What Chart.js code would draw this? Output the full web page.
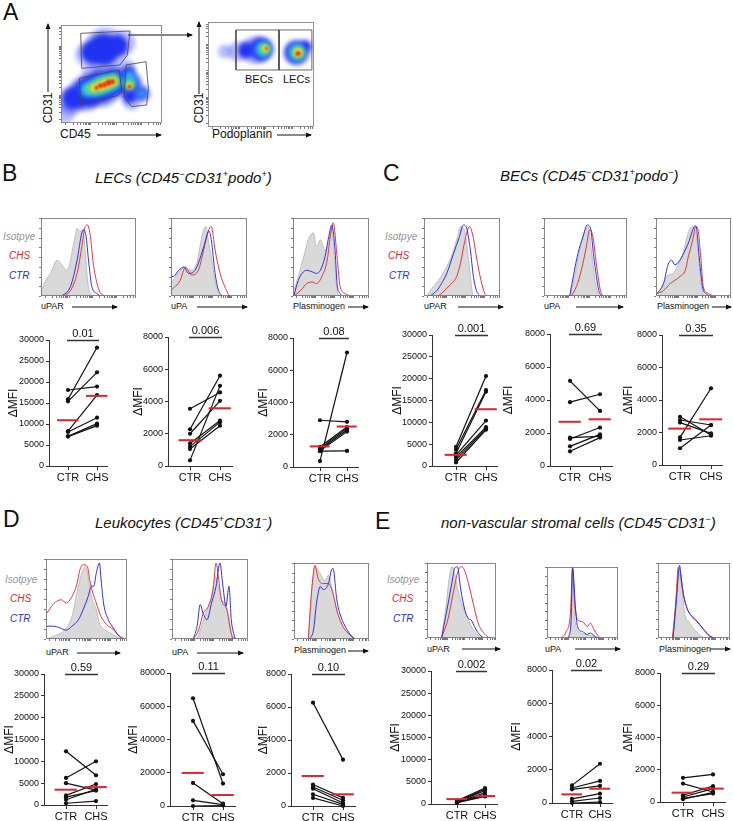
<!DOCTYPE html>
<html>
<head>
<meta charset="utf-8">
<script src="https://cdn.jsdelivr.net/npm/chart.js@4.4.1/dist/chart.umd.min.js"></script>
<style>
  body { margin: 0; background: #fff; font-family: "Liberation Sans", Arial, sans-serif; }
  #fig { position: relative; width: 733px; height: 821px; overflow: hidden; background: #fff; }
  .t { position: absolute; white-space: nowrap; line-height: 1; color: #111; }
  .letter { font-size: 23px; }
  .ttl { font-size: 15px; font-style: italic; }
  .ttl sup { font-size: 9px; vertical-align: 6px; line-height: 0; }
  .lg { font-size: 10px; font-style: italic; }
  .iso { color: #959595; }
  .chs { color: #e0262d; }
  .ctr { color: #2b2be0; }
  .ax { font-size: 9px; }
  .fl { font-size: 12px; }
  .rot { transform: translate(-50%, -50%) rotate(-90deg); }
  canvas { position: absolute; }
  svg { position: absolute; left: 0; top: 0; }
</style>
</head>
<body>
<div id="fig">
  <!-- panel letters and titles -->
  <div class="t letter" style="left:3px;top:1px">A</div>
  <div class="t letter" style="left:2px;top:162px">B</div>
  <div class="t letter" style="left:383px;top:162px">C</div>
  <div class="t letter" style="left:3px;top:508px">D</div>
  <div class="t letter" style="left:375px;top:510px">E</div>

  <div class="t ttl" style="left:95px;top:170px">LECs (CD45<sup>&minus;</sup>CD31<sup>+</sup>podo<sup>+</sup>)</div>
  <div class="t ttl" style="left:500px;top:168px">BECs (CD45<sup>&minus;</sup>CD31<sup>+</sup>podo<sup>&minus;</sup>)</div>
  <div class="t ttl" style="left:95px;top:515px">Leukocytes (CD45<sup>+</sup>CD31<sup>&minus;</sup>)</div>
  <div class="t ttl" style="left:441px;top:515px">non-vascular stromal cells (CD45<sup>&minus;</sup>CD31<sup>&minus;</sup>)</div>

  <!-- panel A axis labels -->
  <div class="t fl rot" style="left:48px;top:108px">CD31</div>
  <div class="t fl" style="left:60px;top:128px">CD45</div>
  <div class="t fl rot" style="left:199px;top:108px">CD31</div>
  <div class="t fl" style="left:212px;top:128px">Podoplanin</div>
  <div class="t" style="left:245px;top:74px;font-size:11px">BECs</div>
  <div class="t" style="left:283px;top:74px;font-size:11px">LECs</div>

  <!-- histogram legends -->
  <div class="t lg iso" style="left:3px;top:232px">Isotpye</div>
  <div class="t lg chs" style="left:9px;top:251px">CHS</div>
  <div class="t lg ctr" style="left:9px;top:271px">CTR</div>
  <div class="t lg iso" style="left:385px;top:232px">Isotpye</div>
  <div class="t lg chs" style="left:388px;top:251px">CHS</div>
  <div class="t lg ctr" style="left:389px;top:271px">CTR</div>
  <div class="t lg iso" style="left:5px;top:575px">Isotpye</div>
  <div class="t lg chs" style="left:10px;top:594px">CHS</div>
  <div class="t lg ctr" style="left:10px;top:614px">CTR</div>
  <div class="t lg iso" style="left:387px;top:575px">Isotpye</div>
  <div class="t lg chs" style="left:392px;top:594px">CHS</div>
  <div class="t lg ctr" style="left:393px;top:614px">CTR</div>

  <!-- histogram axis labels -->
  <div class="t ax" style="left:41px;top:302px">uPAR</div>
  <div class="t ax" style="left:171px;top:302px">uPA</div>
  <div class="t ax" style="left:293px;top:302px">Plasminogen</div>
  <div class="t ax" style="left:424px;top:302px">uPAR</div>
  <div class="t ax" style="left:544px;top:302px">uPA</div>
  <div class="t ax" style="left:657px;top:302px">Plasminogen</div>
  <div class="t ax" style="left:46px;top:648px">uPAR</div>
  <div class="t ax" style="left:172px;top:648px">uPA</div>
  <div class="t ax" style="left:294px;top:646px">Plasminogen</div>
  <div class="t ax" style="left:427px;top:645px">uPAR</div>
  <div class="t ax" style="left:545px;top:645px">uPA</div>
  <div class="t ax" style="left:659px;top:645px">Plasminogen</div>

  <svg width="733" height="821">
    <defs>
      <marker id="ah" markerWidth="6" markerHeight="6" refX="5" refY="3" orient="auto" markerUnits="userSpaceOnUse">
        <path d="M0,0.5 L6,3 L0,5.5 Z" fill="#111"/>
      </marker>
    </defs>
    <g stroke="#111" stroke-width="1" marker-end="url(#ah)">
      <line x1="48" y1="92" x2="48" y2="24"/>
      <line x1="97" y1="135" x2="161" y2="135"/>
      <line x1="128" y1="35" x2="192" y2="35"/>
      <line x1="199" y1="94" x2="199" y2="22"/>
      <line x1="277" y1="135" x2="311" y2="135"/>

      <line x1="72" y1="307" x2="117" y2="307"/>
      <line x1="197" y1="307" x2="247" y2="307"/>
      <line x1="348" y1="307" x2="368" y2="307"/>
      <line x1="458" y1="307" x2="503" y2="307"/>
      <line x1="576" y1="307" x2="623" y2="307"/>
      <line x1="712" y1="307" x2="731" y2="307"/>

      <line x1="77" y1="653" x2="120" y2="653"/>
      <line x1="197" y1="653" x2="243" y2="653"/>
      <line x1="348" y1="651" x2="368" y2="651"/>
      <line x1="462" y1="649" x2="500" y2="649"/>
      <line x1="575" y1="649" x2="620" y2="649"/>
      <line x1="710" y1="649" x2="730" y2="649"/>
    </g>
  </svg>
</div>

<script>
/* =========================================================
   DATA - paired dot plots (delta MFI, one value per mouse)
========================================================== */
const GROUPS = ["CTR", "CHS"];

const B_UPAR_CTR = [18100, 15900, 15400, 8300, 8100, 7100, 7000];
const B_UPAR_CHS = [18900, 28200, 22300, 16900, 11500, 10100, 9600];
const B_UPAR_MEAN = [10900, 16700];
const B_UPA_CTR = [3550, 2280, 2000, 1400, 1200, 1050, 350];
const B_UPA_CHS = [4560, 5600, 4040, 2820, 2720, 2500, 4970];
const B_UPA_MEAN = [1600, 3580];
const B_PLG_CTR = [2900, 1250, 1150, 1080, 1000, 980, 370];
const B_PLG_CHS = [2800, 2480, 2400, 2300, 2200, 1000, 7100];
const B_PLG_MEAN = [1280, 2510];
const B_P = ["0.01", "0.006", "0.08"];

const C_UPAR_CTR = [4400, 3800, 2900, 2500, 2000, 1400, 800];
const C_UPAR_CHS = [20600, 17400, 17000, 10400, 8900, 8600, 8300];
const C_UPAR_MEAN = [2550, 13000];
const C_UPA_CTR = [5160, 3870, 1720, 1640, 1190, 890];
const C_UPA_CHS = [3340, 4350, 1800, 2330, 1920, 1720];
const C_UPA_MEAN = [2680, 2830];
const C_PLG_CTR = [2970, 2770, 2610, 1700, 1540, 1030];
const C_PLG_CHS = [1850, 2460, 1950, 4720, 1800, 2460];
const C_PLG_MEAN = [2240, 2810];
const C_P = ["0.001", "0.69", "0.35"];

const D_UPAR_CTR = [12300, 6200, 5000, 2200, 1800, 1200, 400];
const D_UPAR_CHS = [6800, 10000, 3400, 4800, 3300, 3600, 900];
const D_UPAR_MEAN = [3500, 4100];
const D_UPA_CTR = [64800, 51200, 13900, 3400, 0];
const D_UPA_CHS = [13500, 19100, 1400, 800, 300];
const D_UPA_MEAN = [19900, 6600];
const D_PLG_CTR = [6260, 1300, 1150, 1050, 710, 490];
const D_PLG_CHS = [2810, 490, 350, 180, 100, 0];
const D_PLG_MEAN = [1820, 710];
const D_P = ["0.59", "0.11", "0.10"];

const E_UPAR_CTR = [700, 550, 500, 450, 400, 350, 300];
const E_UPAR_CHS = [3600, 3300, 3000, 2500, 2100, 1800, 1700];
const E_UPAR_MEAN = [1100, 1800];
const E_UPA_CTR = [1060, 900, 820, 250, 100, 0];
const E_UPA_CHS = [2360, 1330, 1030, 560, 300, 50];
const E_UPA_MEAN = [520, 860];
const E_PLG_CTR = [1500, 1140, 420, 310, 230, 170];
const E_PLG_CHS = [1710, 620, 980, 830, 520, 600];
const E_PLG_MEAN = [580, 830];
const E_P = ["0.002", "0.02", "0.29"];

/* =========================================================
   DATA - histograms ([fluorescence %, count % of max])
========================================================== */
const B_UPAR_ISO = [[0,6],[5,20],[10,29],[17,46],[22,40],[27,33],[31,45],[33,59],[36,76],[38,87],[41,83],[44,85],[46.5,59],[49,20],[52,3],[55,0]];
const B_UPAR_RED = [[24,0],[31,7],[38,29],[43,63],[46.5,89],[49,91],[52,76],[55,42],[59,16],[62,5],[67,0]];
const B_UPAR_BLUE = [[22,0],[31,12],[38,46],[43,81],[45,85],[47.5,76],[50,46],[53.5,12],[59,3],[62,0]];
const B_UPA_ISO = [[0,16],[12,33],[19,37],[25,33],[34,42],[38,63],[43,85],[46,89],[49,72],[53,50],[58,20],[62,5],[66,0]];
const B_UPA_RED = [[0,7],[12,20],[19,37],[27,27],[36,33],[43,59],[49,83],[53,89],[58,59],[64,31],[73,7],[77,0]];
const B_UPA_BLUE = [[0,25],[3,25],[10,33],[17,37],[23,29],[30,31],[36,42],[43,63],[50,83],[53,72],[58,29],[62,9],[67,0]];
const B_PLG_ISO = [[1,7],[7,25],[14,50],[20,72],[27,81],[31,63],[36,72],[42,59],[47,68],[51,89],[55,42],[58,7],[62,0]];
const B_PLG_RED = [[1,0],[10,7],[18,16],[25,18],[31,16],[38,25],[45,46],[49,76],[53,94],[58,50],[62,12],[69,3],[73,0]];
const B_PLG_BLUE = [[1,0],[7,20],[12,29],[18,33],[25,31],[31,29],[36,33],[42,50],[47,76],[51,91],[55,63],[58,16],[62,3],[65,0]];

const C_UPAR_ISO = [[4,0],[12,12],[19,20],[25,29],[32,42],[39,59],[44,76],[48,89],[53,85],[56,68],[61,25],[64,3],[66,0]];
const C_UPAR_RED = [[19,0],[25,5],[34,14],[43,25],[48,42],[54,72],[60,89],[65,74],[69,50],[75,20],[80,3],[83,0]];
const C_UPAR_BLUE = [[8,0],[17,7],[23,16],[30,29],[39,55],[46,74],[52,91],[56,87],[61,59],[65,25],[69,7],[74,0]];
const C_UPA_ISO = [[31,0],[37,25],[43,59],[49,83],[53,89],[57,59],[62,16],[66,0]];
const C_UPA_RED = [[33,0],[39,12],[45,33],[51,63],[55,85],[59,76],[63,42],[68,7],[71,0]];
const C_UPA_BLUE = [[31,0],[36,29],[41,55],[47,76],[52,91],[56,87],[60,50],[66,7],[69,0]];
const C_PLG_ISO = [[3,3],[10,16],[16,27],[23,29],[30,42],[36,55],[43,81],[48,89],[52,85],[56,59],[59,25],[63,3],[65,0]];
const C_PLG_RED = [[1,3],[10,7],[19,16],[25,20],[32,25],[39,33],[43,50],[49,72],[53,89],[56,85],[60,46],[63,12],[70,3],[76,0]];
const C_PLG_BLUE = [[1,3],[10,16],[16,40],[21,46],[25,40],[32,46],[39,59],[44,70],[50,87],[53,90],[58,46],[62,12],[68,2],[72,0]];

const D_UPAR_ISO = [[3,1],[13,5],[23,11],[32,28],[38,57],[44,82],[49,91],[52,78],[56,53],[62,37],[66,20],[72,12],[79,8],[87,3],[93,0]];
const D_UPAR_RED = [[1,32],[7,41],[13,47],[19,49],[25,45],[32,53],[38,68],[42,87],[46,93],[51,91],[54,74],[58,57],[62,45],[68,28],[75,18],[83,12],[89,5],[95,1],[97,0]];
const D_UPAR_BLUE = [[1,16],[9,16],[17,14],[25,11],[32,16],[40,24],[46,37],[52,53],[56,66],[59,66],[62,82],[66,95],[68,74],[71,45],[77,24],[83,14],[89,5],[95,0]];
const D_UPA_ISO = [[33,0],[39,16],[46,37],[52,53],[57,78],[61,66],[65,49],[70,45],[74,32],[78,8],[83,0]];
const D_UPA_RED = [[28,0],[35,11],[41,32],[48,41],[54,62],[58,95],[61,78],[65,49],[72,37],[77,11],[80,0]];
const D_UPA_BLUE = [[28,0],[33,16],[37,43],[41,32],[46,24],[52,45],[58,66],[63,95],[67,66],[71,41],[75,66],[78,24],[83,0]];
const D_PLG_ISO = [[19,0],[24,69],[28,95],[35,86],[41,77],[46,84],[50,69],[55,47],[61,25],[68,12],[75,6],[81,0]];
const D_PLG_RED = [[19,0],[24,69],[28,97],[32,80],[38,73],[46,73],[52,60],[57,38],[64,19],[70,10],[77,3],[82,0]];
const D_PLG_BLUE = [[21,0],[26,12],[30,47],[35,69],[39,65],[46,73],[50,91],[52,93],[57,52],[61,34],[68,17],[75,6],[80,0]];

const E_UPAR_ISO = [[21,0],[28,46],[33,86],[37,95],[40,86],[45,64],[52,42],[60,24],[67,11],[74,4],[82,0]];
const E_UPAR_RED = [[21,0],[30,24],[38,60],[44,86],[49,95],[53,93],[60,73],[67,46],[74,20],[82,7],[89,1],[92,0]];
const E_UPAR_BLUE = [[21,0],[28,33],[36,73],[40,93],[44,95],[49,64],[55,37],[60,26],[64,24],[69,15],[74,7],[82,0]];
const E_UPA_ISO = [[30,0],[34,20],[36,98],[39,30],[45,9],[55,5],[64,3],[70,0]];
const E_UPA_RED = [[20,0],[27,9],[33,35],[36,98],[39,49],[43,26],[50,23],[57,16],[61,21],[66,12],[73,2],[75,0]];
const E_UPA_BLUE = [[30,0],[34,26],[36,100],[40,44],[43,16],[50,9],[57,5],[61,7],[68,2],[73,0]];
const E_PLG_ISO = [[21,0],[26,68],[29,91],[33,68],[37,33],[44,20],[51,11],[58,4],[63,0]];
const E_PLG_RED = [[20,0],[25,50],[28,94],[31,90],[35,60],[40,40],[46,30],[52,25],[58,18],[65,10],[72,3],[78,0]];
const E_PLG_BLUE = [[21,0],[26,55],[30,97],[32,80],[36,55],[42,36],[48,28],[54,22],[60,15],[66,8],[72,2],[77,0]];

/* =========================================================
   DATA - flow plots in A ([x %, y %, spread px] per density level)
========================================================== */
const A1_SPARSE = [[44,75,22],[26,70,12],[62,82,12],[10,22,14],[24,30,18],[40,36,20],[55,42,16],[4,10,10],[68,40,13],[70,22,9],[66,56,8],[80,30,9],[30,50,10]];
const A1_LOW = [[42,75,16],[30,72,10],[56,79,10],[12,25,11],[26,31,15],[40,37,16],[53,42,13],[68,40,10],[68,27,7],[67,52,6],[80,30,6]];
const A1_MID = [[26,34,7],[34,36,9],[42,39,10],[51,42,9],[68,41,7],[68,49,4],[80,30,3.5]];
const A1_HIGH = [[30,35,5],[37,37,6.5],[44,40,7],[52,43,6],[68,39,4.5]];
const A1_TOP = [[33,36,3.5],[39,38,4.5],[45,40,5],[51,42,4],[68,38,3]];
const A1_PEAK = [[35,36,2],[39,38,2.5],[43,39,2.5],[47,41,3],[51,42,2.5],[68,37,2]];
const A1_GATE_EC = [[19.5,91.5],[68.3,93.9],[65.7,69.4],[58.4,59.2],[20.5,55.8],[19.5,91.5]];
const A1_GATE_NEG = [[18.1,45.6],[57.7,54.1],[60.1,31.9],[55.7,27.9],[19.5,19.1],[18.1,45.6]];
const A1_GATE_POS = [[64.4,59.2],[84.2,62.6],[86.5,35.4],[84.8,18.4],[70,16.7],[62.4,26.8],[64.4,59.2]];

const A2_SPARSE = [[16,72,7],[28,72,10],[44,73,14],[84,71,13]];
const A2_LOW = [[36,73,8],[50,74,12],[83,71,11],[92,77,6]];
const A2_MID = [[52,74,8],[84,71,8.5]];
const A2_HIGH = [[54,74,5],[85,71,6]];
const A2_TOP = [[54,75,3],[85,71,4]];
const A2_PEAK = [[55,75,1.5],[85,70,2.5]];
const A2_GATE_BEC = [[26.4,54.3],[67,54.3],[67,92.4],[26.4,92.4],[26.4,54.3]];
const A2_GATE_LEC = [[67,54.3],[98,54.3],[98,92.4],[67,92.4],[67,54.3]];

/* =========================================================
   LAYOUT (page pixels)
========================================================== */
const DOT_BOXES = {
    B1: { title: 13, axis: 49, ctr: 68, chs: 97, right: 107, top: 340, bottom: 466 },
    B2: { title: 138, axis: 168, ctr: 190, chs: 220, right: 232, top: 337, bottom: 466 },
    B3: { title: 263, axis: 293, ctr: 320, chs: 347, right: 358, top: 338, bottom: 467 },
    C1: { title: 397, axis: 432, ctr: 456, chs: 486, right: 497, top: 335, bottom: 466 },
    C2: { title: 508, axis: 550, ctr: 570, chs: 600, right: 612, top: 334, bottom: 466 },
    C3: { title: 628, axis: 662, ctr: 680, chs: 711, right: 722, top: 335, bottom: 465 },
    D1: { title: 9, axis: 44, ctr: 66, chs: 96, right: 107, top: 674, bottom: 805 },
    D2: { title: 133, axis: 170, ctr: 193, chs: 223, right: 235, top: 673, bottom: 806 },
    D3: { title: 263, axis: 291, ctr: 313, chs: 343, right: 355, top: 674, bottom: 806 },
    E1: { title: 395, axis: 431, ctr: 457, chs: 485, right: 497, top: 671, bottom: 804 },
    E2: { title: 516, axis: 552, ctr: 572, chs: 600, right: 612, top: 670, bottom: 803 },
    E3: { title: 628, axis: 660, ctr: 683, chs: 713, right: 725, top: 673, bottom: 802 }
};

const HIST_BOXES = {
    B1: [41, 218, 136, 296], B2: [171, 218, 247, 296], B3: [293, 218, 369, 296],
    C1: [424, 218, 500, 296], C2: [544, 218, 627, 296], C3: [656, 218, 731, 296],
    D1: [46, 559, 127, 639], D2: [172, 559, 248, 639], D3: [294, 563, 369, 639],
    E1: [427, 563, 496, 638], E2: [547, 567, 618, 638], E3: [658, 563, 730, 638]
};

const FLOW_BOXES = { left: [61, 25, 162, 123], right: [208, 22, 314, 127] };

/* =========================================================
   CHART.JS SETUP
========================================================== */
Chart.defaults.font.family = '"Liberation Sans", Arial, sans-serif';
Chart.defaults.color = "#111";
Chart.defaults.animation = false;

// log-like minor ticks for cytometry axes
const LOG_TICKS = [];
[4, 29, 54, 79].forEach(d => {
    for (let k = 1; k <= 9; k++) {
        const v = d + 25 * Math.log10(k);
        if (v <= 100) LOG_TICKS.push(v);
    }
});
const LIN_TICKS = [0, 12.5, 25, 37.5, 50, 62.5, 75, 87.5, 100];

const frameTicks = {
    id: "frameTicks",
    afterDraw(chart, args, opts) {
        if (!opts.on) return;
        const { ctx, chartArea: a, scales } = chart;
        ctx.save();
        ctx.strokeStyle = opts.color || "#6a6a6a";
        ctx.lineWidth = 0.8;
        ctx.strokeRect(a.left + 0.5, a.top + 0.5, a.right - a.left - 1, a.bottom - a.top - 1);
        ctx.strokeStyle = "#555";
        ctx.beginPath();
        (opts.x || []).forEach(v => {
            const px = Math.round(scales.x.getPixelForValue(v)) + 0.5;
            ctx.moveTo(px, a.bottom);
            ctx.lineTo(px, a.bottom + 2);
        });
        (opts.y || []).forEach(v => {
            const py = Math.round(scales.y.getPixelForValue(v)) + 0.5;
            ctx.moveTo(a.left, py);
            ctx.lineTo(a.left - 2, py);
        });
        ctx.stroke();
        ctx.restore();
    }
};

const pBracket = {
    id: "pBracket",
    afterDraw(chart, args, opts) {
        if (!opts.text) return;
        const { ctx, chartArea: a, scales } = chart;
        const x1 = scales.x.getPixelForValue(1) - 1;
        const x2 = scales.x.getPixelForValue(2) + 2;
        const y = a.top + 0.5;
        ctx.save();
        ctx.strokeStyle = "#333";
        ctx.lineWidth = 1.5;
        ctx.beginPath();
        ctx.moveTo(x1, y);
        ctx.lineTo(x2, y);
        ctx.stroke();
        ctx.fillStyle = "#111";
        ctx.font = '11px "Liberation Sans", Arial, sans-serif';
        ctx.textAlign = "center";
        ctx.textBaseline = "alphabetic";
        ctx.fillText(opts.text, (x1 + x2) / 2, y - 4);
        ctx.restore();
    }
};

const blurLayer = {
    id: "blurLayer",
    beforeDatasetDraw(chart, args) {
        const ds = chart.data.datasets[args.index];
        chart.ctx.save();
        if (ds.blur) chart.ctx.filter = `blur(${ds.blur}px)`;
    },
    afterDatasetDraw(chart) {
        chart.ctx.restore();
    }
};

Chart.register(frameTicks, pBracket, blurLayer);

const fig = document.getElementById("fig");

function addCanvas(left, top, w, h) {
    const c = document.createElement("canvas");
    c.width = w;
    c.height = h;
    c.style.left = left + "px";
    c.style.top = top + "px";
    c.style.width = w + "px";
    c.style.height = h + "px";
    fig.appendChild(c);
    return c;
}

const pts = arr => arr.map(([x, y]) => ({ x, y }));
const bubbles = arr => arr.map(([x, y, r]) => ({ x, y, r }));

/* =========================================================
   PAIRED DOT PLOTS
========================================================== */
function dotPlot(box, ctr, chs, mean, yMax, step, pText) {
    const left = box.title - 7;
    const top = box.top - 24;
    const w = box.right + 6 - left;
    const h = box.bottom + 22 - top;
    const gap = box.chs - box.ctr;
    const xMin = 1 - (box.ctr - box.axis) / gap;
    const xMax = 2 + (box.right - box.chs) / gap;

    const datasets = [];
    [0, 1].forEach(g => {
        const c = g + 1;
        datasets.push({
            data: [{ x: c - 0.38, y: mean[g] }, { x: c + 0.36, y: mean[g] }],
            borderColor: "#e3232b",
            borderWidth: 2,
            pointRadius: 0,
            order: 0,
            clip: false
        });
    });
    ctr.forEach((v, i) => {
        datasets.push({
            data: [{ x: 1, y: v }, { x: 2, y: chs[i] }],
            borderColor: "#111",
            borderWidth: 1.2,
            pointRadius: 2.1,
            pointBackgroundColor: "#111",
            pointBorderWidth: 0,
            order: 1,
            clip: false
        });
    });

    new Chart(addCanvas(left, top, w, h), {
        type: "line",
        data: { datasets },
        options: {
            responsive: false,
            events: [],
            layout: { autoPadding: false, padding: { top: 24, right: 6, left: 0, bottom: 0 } },
            plugins: {
                legend: { display: false },
                tooltip: { enabled: false },
                pBracket: { text: pText }
            },
            scales: {
                x: {
                    type: "linear",
                    min: xMin,
                    max: xMax,
                    afterBuildTicks: s => { s.ticks = [{ value: 1 }, { value: 2 }]; },
                    afterFit: s => { s.height = 22; },
                    ticks: {
                        callback: v => GROUPS[v - 1] || "",
                        font: { size: 11 },
                        padding: 1,
                        maxRotation: 0,
                        autoSkip: false
                    },
                    grid: { drawOnChartArea: false, tickLength: 4, color: "#333" },
                    border: { color: "#333", width: 1 }
                },
                y: {
                    min: 0,
                    max: yMax,
                    afterFit: s => { s.width = box.axis - left; },
                    ticks: {
                        stepSize: step,
                        callback: v => String(v),
                        font: { size: 9 },
                        padding: 2
                    },
                    grid: { drawOnChartArea: false, tickLength: 3, color: "#333" },
                    border: { color: "#333", width: 1 },
                    title: { display: true, text: "\u0394MFI", font: { size: 12 }, padding: 0 }
                }
            }
        }
    });
}

/* =========================================================
   HISTOGRAMS
========================================================== */
function histogram(box, iso, red, blue) {
    const [l, t, r, b] = box;
    new Chart(addCanvas(l - 4, t - 4, r - l + 8, b - t + 8), {
        type: "line",
        data: {
            datasets: [
                { data: pts(blue), borderColor: "#2f2fe8", borderWidth: 1, order: 1 },
                { data: pts(red), borderColor: "#e2373c", borderWidth: 1, order: 2 },
                { data: pts(iso), borderColor: "#b4b4b4", borderWidth: 0.8,
                  backgroundColor: "#d9d9d9", fill: "origin", order: 3 }
            ]
        },
        options: {
            responsive: false,
            events: [],
            layout: { autoPadding: false, padding: 4 },
            elements: { point: { radius: 0 }, line: { cubicInterpolationMode: "monotone" } },
            plugins: {
                legend: { display: false },
                tooltip: { enabled: false },
                frameTicks: { on: true, x: LOG_TICKS, y: LIN_TICKS }
            },
            scales: {
                x: { type: "linear", min: 0, max: 100, display: false },
                y: { min: 0, max: 100, display: false }
            }
        }
    });
}

/* =========================================================
   FLOW DENSITY PLOTS (A)
========================================================== */
function flowPlot(box, layers, gates) {
    const [l, t, r, b] = box;
    const colors = ["rgba(50,60,255,0.35)", "#2233f0", "#2fc4ec", "#7ddc4c", "#f3e036", "#e5281c"];
    const blurs = [2, 2.5, 2.5, 2, 1.8, 1.3];
    const datasets = [];
    gates.forEach(g => datasets.push({
        type: "line", data: pts(g), borderColor: "#444", borderWidth: 0.8,
        pointRadius: 0, tension: 0, order: 0, clip: false
    }));
    layers.forEach((layer, i) => datasets.push({
        type: "bubble", data: bubbles(layer), backgroundColor: colors[i],
        borderWidth: 0, blur: blurs[i], order: 10 - i, clip: 0
    }));
    new Chart(addCanvas(l - 4, t - 4, r - l + 8, b - t + 8), {
        type: "bubble",
        data: { datasets },
        options: {
            responsive: false,
            events: [],
            layout: { autoPadding: false, padding: 4 },
            plugins: {
                legend: { display: false },
                tooltip: { enabled: false },
                frameTicks: { on: true, x: LOG_TICKS, y: LOG_TICKS, color: "#777" }
            },
            scales: {
                x: { type: "linear", min: 0, max: 100, display: false },
                y: { type: "linear", min: 0, max: 100, display: false }
            }
        }
    });
}

flowPlot(FLOW_BOXES.left,
    [A1_SPARSE, A1_LOW, A1_MID, A1_HIGH, A1_TOP, A1_PEAK],
    [A1_GATE_EC, A1_GATE_NEG, A1_GATE_POS]);
flowPlot(FLOW_BOXES.right,
    [A2_SPARSE, A2_LOW, A2_MID, A2_HIGH, A2_TOP, A2_PEAK],
    [A2_GATE_BEC, A2_GATE_LEC]);

histogram(HIST_BOXES.B1, B_UPAR_ISO, B_UPAR_RED, B_UPAR_BLUE);
histogram(HIST_BOXES.B2, B_UPA_ISO, B_UPA_RED, B_UPA_BLUE);
histogram(HIST_BOXES.B3, B_PLG_ISO, B_PLG_RED, B_PLG_BLUE);
histogram(HIST_BOXES.C1, C_UPAR_ISO, C_UPAR_RED, C_UPAR_BLUE);
histogram(HIST_BOXES.C2, C_UPA_ISO, C_UPA_RED, C_UPA_BLUE);
histogram(HIST_BOXES.C3, C_PLG_ISO, C_PLG_RED, C_PLG_BLUE);
histogram(HIST_BOXES.D1, D_UPAR_ISO, D_UPAR_RED, D_UPAR_BLUE);
histogram(HIST_BOXES.D2, D_UPA_ISO, D_UPA_RED, D_UPA_BLUE);
histogram(HIST_BOXES.D3, D_PLG_ISO, D_PLG_RED, D_PLG_BLUE);
histogram(HIST_BOXES.E1, E_UPAR_ISO, E_UPAR_RED, E_UPAR_BLUE);
histogram(HIST_BOXES.E2, E_UPA_ISO, E_UPA_RED, E_UPA_BLUE);
histogram(HIST_BOXES.E3, E_PLG_ISO, E_PLG_RED, E_PLG_BLUE);

dotPlot(DOT_BOXES.B1, B_UPAR_CTR, B_UPAR_CHS, B_UPAR_MEAN, 30000, 5000, B_P[0]);
dotPlot(DOT_BOXES.B2, B_UPA_CTR, B_UPA_CHS, B_UPA_MEAN, 8000, 2000, B_P[1]);
dotPlot(DOT_BOXES.B3, B_PLG_CTR, B_PLG_CHS, B_PLG_MEAN, 8000, 2000, B_P[2]);
dotPlot(DOT_BOXES.C1, C_UPAR_CTR, C_UPAR_CHS, C_UPAR_MEAN, 30000, 5000, C_P[0]);
dotPlot(DOT_BOXES.C2, C_UPA_CTR, C_UPA_CHS, C_UPA_MEAN, 8000, 2000, C_P[1]);
dotPlot(DOT_BOXES.C3, C_PLG_CTR, C_PLG_CHS, C_PLG_MEAN, 8000, 2000, C_P[2]);
dotPlot(DOT_BOXES.D1, D_UPAR_CTR, D_UPAR_CHS, D_UPAR_MEAN, 30000, 5000, D_P[0]);
dotPlot(DOT_BOXES.D2, D_UPA_CTR, D_UPA_CHS, D_UPA_MEAN, 80000, 20000, D_P[1]);
dotPlot(DOT_BOXES.D3, D_PLG_CTR, D_PLG_CHS, D_PLG_MEAN, 8000, 2000, D_P[2]);
dotPlot(DOT_BOXES.E1, E_UPAR_CTR, E_UPAR_CHS, E_UPAR_MEAN, 30000, 5000, E_P[0]);
dotPlot(DOT_BOXES.E2, E_UPA_CTR, E_UPA_CHS, E_UPA_MEAN, 8000, 2000, E_P[1]);
dotPlot(DOT_BOXES.E3, E_PLG_CTR, E_PLG_CHS, E_PLG_MEAN, 8000, 2000, E_P[2]);
</script>
</body>
</html>
